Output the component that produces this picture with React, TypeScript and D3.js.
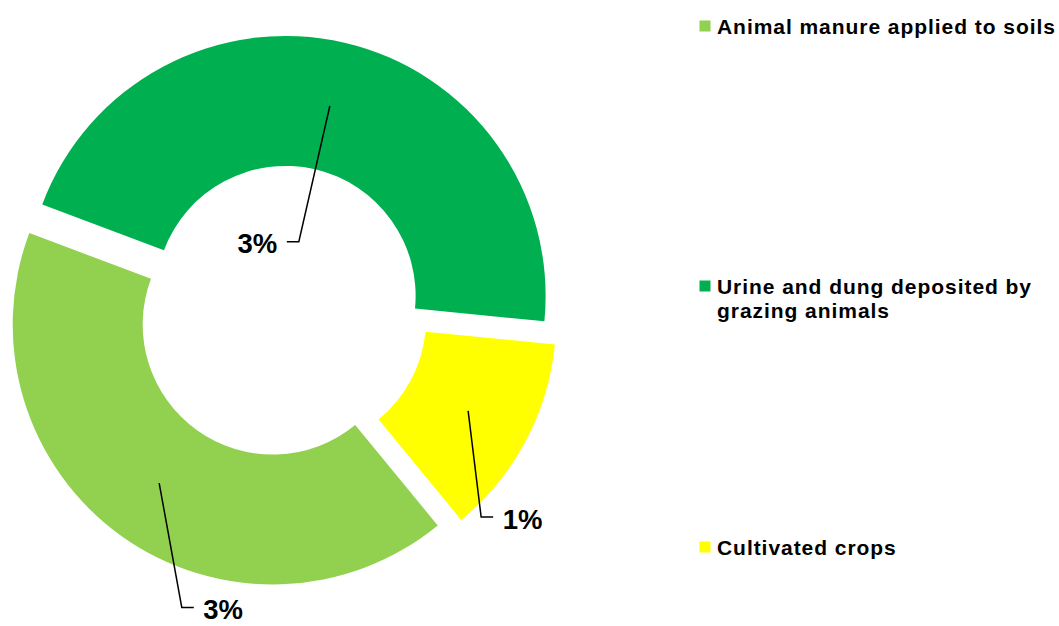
import React from "react";
import * as d3 from "d3";

// ---- data ----
const categories = [
  "Animal manure applied to soils",
  "Urine and dung deposited by grazing animals",
  "Cultivated crops",
];
const values = [3.0, 3.3, 0.9];
const valueLabels = ["3%", "3%", "1%"];
const legendLines = [
  ["Animal manure applied to soils"],
  ["Urine and dung deposited by", "grazing animals"],
  ["Cultivated crops"],
];
const colors = ["#92D050", "#00B050", "#FFFF00"];

// ---- layout ----
const W = 1059;
const H = 626;
const CX = 282;
const CY = 311.5;
const R_OUT = 260;
const R_IN = 130;
const EXPLODE = 16;
const START_DEG = 140.6;
// elbow offset from slice centroid, and side the label sits on
const labelLayout = [
  { dx: 22.6, dy: 124.4, side: 1 },
  { dx: -31, dy: 135.7, side: -1 },
  { dx: 13, dy: 106, side: 1 },
];
const legendCenters = [26, 286, 547];
const FONT = "'Liberation Sans', Arial, Helvetica, sans-serif";

export default function App() {
  const start = (START_DEG * Math.PI) / 180;
  const pie = d3
    .pie<number>()
    .sort(null)
    .startAngle(start)
    .endAngle(start + 2 * Math.PI);
  const arcs = pie(values);
  const arc = d3.arc<d3.PieArcDatum<number>>().innerRadius(R_IN).outerRadius(R_OUT);

  return (
    <svg
      width={W}
      height={H}
      style={{ position: "absolute", left: 0, top: 0, background: "#fff" }}
    >
      <g>
        {arcs.map((a, i) => {
          const mid = (a.startAngle + a.endAngle) / 2;
          const ox = CX + EXPLODE * Math.sin(mid);
          const oy = CY - EXPLODE * Math.cos(mid);
          return (
            <path
              key={categories[i]}
              d={arc(a) || ""}
              transform={`translate(${ox},${oy})`}
              fill={colors[i]}
            />
          );
        })}
      </g>
      <g>
        {arcs.map((a, i) => {
          const mid = (a.startAngle + a.endAngle) / 2;
          const ox = CX + EXPLODE * Math.sin(mid);
          const oy = CY - EXPLODE * Math.cos(mid);
          const [c0x, c0y] = arc.centroid(a);
          const sx = ox + c0x;
          const sy = oy + c0y;
          const L = labelLayout[i];
          const ex = sx + L.dx;
          const ey = sy + L.dy;
          const hx = ex + L.side * 12;
          const tx = hx + L.side * 9.5;
          return (
            <g key={"lbl" + i}>
              <polyline
                points={`${sx},${sy} ${ex},${ey} ${hx},${ey}`}
                fill="none"
                stroke="#000"
                strokeWidth={1.5}
              />
              <text
                x={tx}
                y={ey + 11.8}
                textAnchor={L.side > 0 ? "start" : "end"}
                fontFamily={FONT}
                fontWeight="bold"
                fontSize={27.5}
                fill="#000"
              >
                {valueLabels[i]}
              </text>
            </g>
          );
        })}
      </g>
      <g>
        {legendLines.map((lines, i) => {
          const cy = legendCenters[i];
          return (
            <g key={"leg" + i}>
              <rect x={699.5} y={cy - 5.5} width={11} height={11} fill={colors[i]} />
              {lines.map((ln, j) => (
                <text
                  key={j}
                  x={717}
                  y={cy + 7.5 + j * 24}
                  fontFamily={FONT}
                  fontWeight="bold"
                  fontSize={21}
                  letterSpacing={0.95}
                  fill="#000"
                >
                  {ln}
                </text>
              ))}
            </g>
          );
        })}
      </g>
    </svg>
  );
}
